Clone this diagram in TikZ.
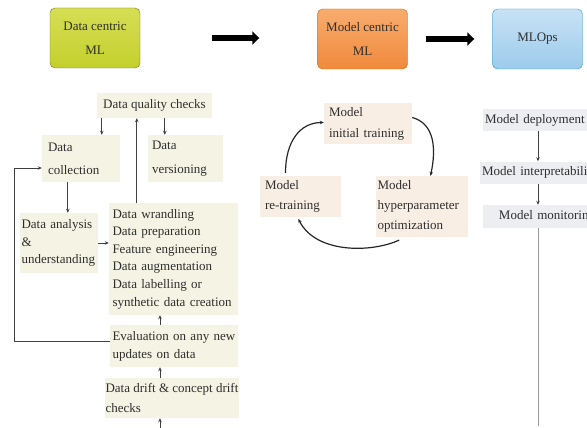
\documentclass[tikz,border=0pt]{standalone}
\usepackage{fontspec}
\setmainfont{Liberation Serif}
\usetikzlibrary{positioning}
\usetikzlibrary{arrows.meta}
\definecolor{txt}{HTML}{2E2E2E}
\definecolor{lfill}{HTML}{F5F3E3}
\definecolor{mfill}{HTML}{F9EEE4}
\definecolor{rfill}{HTML}{ECEEF1}
\newcommand{\lsk}[1]{\fontsize{13pt}{#1pt}\selectfont}

\begin{document}
\begin{tikzpicture}[x=1pt,y=-1pt,>={Stealth[length=4pt,width=3.5pt]},
	nodes={text=txt, inner ysep=0pt},
	lbox/.style={fill=lfill, align=left},
	mbox/.style={fill=mfill, align=left},
	rbox/.style={fill=rfill, inner xsep=2pt, text width=124pt, minimum height=22pt, font=\lsk{16}},
	topbox/.style={draw=#1!80!black, rounded corners=5pt, minimum width=90pt, minimum height=60pt, align=center, font=\lsk{24}},
	lnk/.style={draw=black!75, line width=0.8pt, ->},
	big/.style={line width=6pt, -{Triangle[length=7pt,width=13pt]}},
	cyc/.style={draw=black!85, line width=1.2pt, ->}]
	\useasboundingbox (0,0) rectangle (587,428);
	\clip (0,0) rectangle (587,428);
	\node (dcml) [topbox=olive, top color={rgb,255:red,214;green,222;blue,84}, bottom color={rgb,255:red,196;green,208;blue,44}] at (95,38) {Data centric\\ML};
	\node (mcml) [topbox=orange, top color={rgb,255:red,248;green,172;blue,110}, bottom color={rgb,255:red,240;green,138;blue,60}] at (362.5,39) {Model centric\\ML};
	\node (mlops) [topbox=cyan, top color={rgb,255:red,200;green,226;blue,244}, bottom color={rgb,255:red,156;green,203;blue,236}] at (537.5,39) {MLOps};
	\draw[big, shorten <=72pt, shorten >=58pt] (dcml.east) -- (dcml.east -| mcml.west);
	\draw[big, shorten <=18pt, shorten >=18pt] (mcml.east) -- (mlops.west);
	\node (dqc) [lbox, align=center, minimum width=115pt, minimum height=25pt, font=\lsk{16}] at (154.5,105.5) {Data quality checks};
	\node (dcol) [lbox, inner xsep=6pt, text width=66pt, minimum height=47pt, font=\lsk{23}] at (81,158.5) {Data\\collection};
	\node (dver) [lbox, inner xsep=4pt, text width=67pt, minimum height=47pt, font=\lsk{24}] at (185.5,158.5) {Data\\versioning};
	\node (dana) [lbox, inner xsep=1.5pt, text width=75pt, minimum height=60pt, font=\lsk{17.5}] at (59,243) {Data analysis\\\&\\understanding};
	\node (dwr) [lbox, inner xsep=3.5pt, text width=122pt, minimum height=112pt, font=\lsk{17.6}] at (173.5,259) {Data wrandling\\Data preparation\\Feature engineering\\Data augmentation\\Data labelling or\\synthetic data creation};
	\node (eval) [lbox, inner xsep=2.5pt, text width=123pt, minimum height=42pt, font=\lsk{18}] at (174,346) {Evaluation on any new\\updates on data};
	\node (drift) [lbox, inner xsep=1pt, minimum width=132pt, minimum height=40pt, font=\lsk{20}] at (172,398) {Data drift \& concept drift\\checks};
	\coordinate (lsp) at (160,0);
	\coordinate (lft) at (14,0);
	\coordinate (lend) at (160,428);
	\draw[lnk] ([xshift=5pt]dqc.south west) -- ([xshift=5pt]dqc.south west |- dcol.north);
	\draw[lnk] ([xshift=17pt]dver.north west |- dqc.south) -- ([xshift=17pt]dver.north west);
	\draw[lnk] ([xshift=28pt]dwr.north west) -- ([xshift=28pt]dwr.north west |- dqc.south);
	\draw[lnk] ([xshift=26pt]dcol.south west) -- ([xshift=26pt]dcol.south west |- dana.north);
	\draw[lnk] (dana.east) -- (dana.east -| dwr.west);
	\draw[lnk] (eval.north -| lsp) -- (dwr.south -| lsp);
	\draw[lnk] (drift.north -| lsp) -- (eval.south -| lsp);
	\draw[lnk] (lend) -- (drift.south -| lsp);
	\draw[lnk] ([yshift=5pt]eval.west) -- ([yshift=5pt]eval.west -| lft) |- ([yshift=-9.5pt]dcol.west);
	\node (mit) [mbox, inner xsep=5pt, text width=78pt, minimum height=41pt, font=\lsk{21}] at (368,123.5) {Model\\initial training};
	\node (mret) [mbox, inner xsep=5pt, text width=71pt, minimum height=41pt, font=\lsk{20}] at (300.5,196.5) {Model\\re-training};
	\node (mhyp) [mbox, inner xsep=2pt, text width=88pt, minimum height=61pt, font=\lsk{20}] at (421.5,206.5) {Model\\hyperparameter\\optimization};
	\draw[cyc] ([yshift=6pt]mit.east) .. controls +(22,6) and +(6,-28) .. ([xshift=9pt]mhyp.north);
	\draw[cyc, shorten <=7pt, shorten >=2pt] ([xshift=-16pt]mhyp.south) .. controls +(-35,16) and +(18,36) .. ([xshift=-3pt]mret.south);
	\draw[cyc, shorten <=3pt] ([xshift=-15pt]mret.north) .. controls +(0,-34) and +(-24,0) .. ([yshift=1pt]mit.west);
	\node (mdep) [rbox, align=left] at (547,120) {Model deployment};
	\node (mint) [rbox, align=left] at (544,172.5) {Model interpretability};
	\node (mmon) [rbox, align=center, minimum height=23pt] at (547,216.5) {Model monitoring};
	\coordinate (rsp) at (538,0);
	\coordinate (rend) at (538,426);
	\draw[lnk] (mdep.south -| rsp) -- (mint.north -| rsp);
	\draw[lnk] (mint.south -| rsp) -- (mmon.north -| rsp);
	\draw[draw=black!40, line width=0.8pt] (mmon.south -| rsp) -- (rend);
\end{tikzpicture}
\end{document}
